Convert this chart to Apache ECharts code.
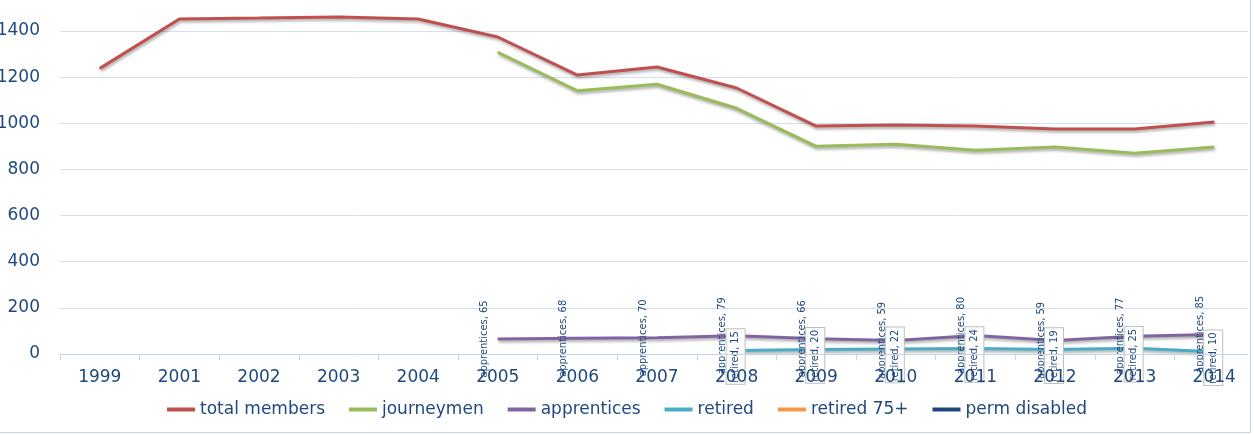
<!DOCTYPE html>
<html><head><meta charset="utf-8">
<script src="https://cdn.jsdelivr.net/npm/echarts@6/dist/echarts.min.js"></script>
<style>html,body{margin:0;padding:0;background:#fff}#c{width:1254px;height:435px}</style>
</head><body><div id="c"></div>
<script>
var categories = ['1999','2001','2002','2003','2004','2005','2006','2007','2008','2009','2010','2011','2012','2013','2014'];
var totalMembers = [1238,1452,1456,1461,1452,1374,1209,1244,1153,988,993,988,975,975,1006];
var journeymen = [null,null,null,null,null,1308,1141,1169,1065,900,909,883,897,870,897];
var apprentices = [null,null,null,null,null,65,68,70,79,66,59,80,59,77,85];
var retired = [null,null,null,null,null,null,null,null,15,20,22,24,19,25,10];
var retired75 = [null,null,null,null,null,null,null,null,null,null,null,null,null,null,null];
var permDisabled = [null,null,null,null,null,null,null,null,null,null,null,null,null,null,null];
var yTicks = [0,200,400,600,800,1000,1200,1400];

var txt = '#1F497D';
var font = 'DejaVu Sans';
var lblFont = '"DejaVu Sans Condensed", "DejaVu Sans", sans-serif';
function mk(name, data, color, label) {
  return {
    name: name, type: 'line', data: data, clip: false,
    symbol: 'circle', symbolSize: 1, connectNulls: false,
    itemStyle: {color: color},
    lineStyle: {color: color, width: 3, shadowColor: 'rgba(0,0,0,0.35)', shadowBlur: 3, shadowOffsetY: 2, shadowOffsetX: 1},
    label: label || {show: false},
    emphasis: {disabled: true}
  };
}
var chart = echarts.init(document.getElementById('c'), null, {renderer: 'canvas'});
chart.setOption({
  animation: false,
  backgroundColor: '#fff',
  grid: {left: 60, right: 0, top: 31, bottom: 81, containLabel: false, outerBoundsMode: 'none'},
  xAxis: {
    type: 'category', data: categories, boundaryGap: true, z: 10,
    axisLine: {lineStyle: {color: '#c6d4e6', width: 1}},
    axisTick: {show: true, length: 6, lineStyle: {color: '#c6d4e6'}},
    axisLabel: {color: txt, fontFamily: font, fontSize: 17, margin: 15}
  },
  yAxis: {
    type: 'value', min: 0, max: yTicks[yTicks.length-1], interval: 200,
    axisLine: {show: false}, axisTick: {show: false},
    splitLine: {lineStyle: {color: '#d5dfed', width: 1}},
    axisLabel: {color: txt, fontFamily: font, fontSize: 17, margin: 20, formatter: function (v) { return String(v); }}
  },
  legend: {
    left: 'center', top: 396, icon: 'rect', itemWidth: 28, itemHeight: 4, itemGap: 24,
    textStyle: {color: txt, fontFamily: font, fontSize: 17},
    data: ['total members','journeymen','apprentices','retired','retired 75+','perm disabled']
  },
  series: [
    mk('total members', totalMembers, '#C0504D'),
    mk('journeymen', journeymen, '#9BBB59'),
    mk('apprentices', apprentices, '#8064A2', {
      show: true, position: 'inside', rotate: 90, offset: [0, -14],
      formatter: '{a}, {c}', color: txt, fontFamily: lblFont, fontSize: 11
    }),
    mk('retired', retired, '#4BACC6', {
      show: true, position: 'inside', rotate: 90, offset: [-6, -1],
      formatter: '{a}, {c}', color: txt, fontFamily: lblFont, fontSize: 11,
      backgroundColor: '#fff', borderColor: '#bfbfbf', borderWidth: 1, padding: [4, 2, 3, 1]
    }),
    mk('retired 75+', retired75, '#F79646'),
    mk('perm disabled', permDisabled, '#1F497D')
  ],
  graphic: [
    {type: 'rect', z: 100, silent: true, shape: {x: 1248, y: 0, width: 10, height: 435}, style: {fill: '#fff'}},
    {type: 'rect', z: 101, silent: true, shape: {x: -10, y: -10, width: 1260.5, height: 442.5}, style: {fill: 'none', stroke: '#c8d6e8', lineWidth: 1}}
  ]
});
</script></body></html>
